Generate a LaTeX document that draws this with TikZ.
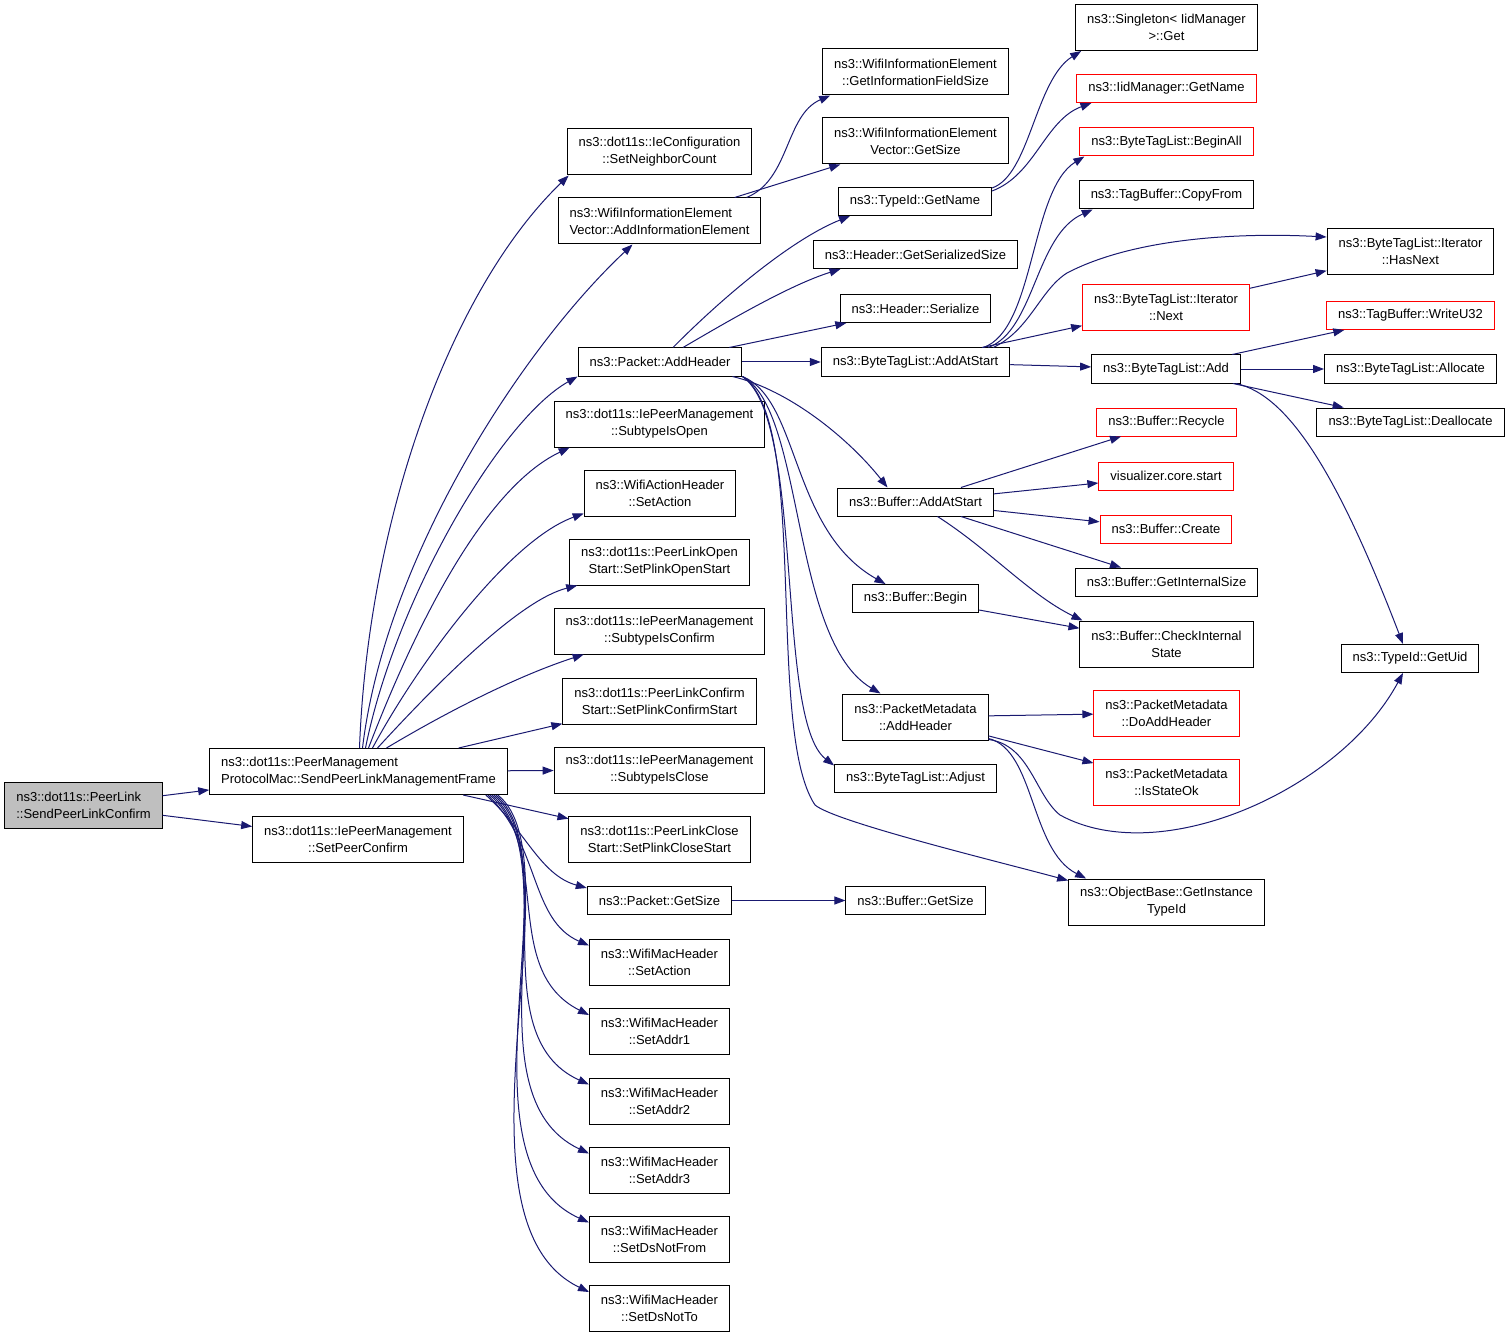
\documentclass[tikz,border=0pt]{standalone}
\usepackage{fontspec}
\setmainfont{Liberation Sans}
\usepackage{tikz}
\usetikzlibrary{arrows.meta}

\definecolor{edgeblue}{HTML}{191970}
\definecolor{rootgray}{HTML}{BFBFBF}

\tikzset{
  fn/.style={draw=black, line width=1pt, font=\fontsize{13}{17}\selectfont, inner xsep=11.5pt, inner ysep=0pt, minimum height=28pt, align=center},
  two/.style={minimum height=46pt},
  missing/.style={draw=red},
  here/.style={fill=rootgray},
  call/.style={draw=edgeblue, line width=1pt, -{Triangle[length=11pt,width=8pt]}},
}

\begin{document}
\begin{tikzpicture}[x=1pt,y=-1pt]
  \useasboundingbox (0,0) rectangle (1512,1337);

  \node[fn, two, here, align=left] at (83.5,805.5) (send-confirm) {ns3::dot11s::PeerLink\\::SendPeerLinkConfirm};

  \node[fn, two, align=left] at (358.5,771.5) (send-frame) {ns3::dot11s::PeerManagement\\ProtocolMac::SendPeerLinkManagementFrame};
  \node[fn, two] at (358,839.5) (set-peer-confirm) {ns3::dot11s::IePeerManagement\\::SetPeerConfirm};

  \node[fn, two] at (659.5,152) (set-neighbor-count) {ns3::dot11s::IeConfiguration\\::SetNeighborCount};
  \node[fn, two, align=left] at (659.5,221) (add-info-element) {ns3::WifiInformationElement\\Vector::AddInformationElement};
  \node[fn] at (660,362) (packet-add-header) {ns3::Packet::AddHeader};
  \node[fn, two] at (659.5,424) (subtype-open) {ns3::dot11s::IePeerManagement\\::SubtypeIsOpen};
  \node[fn, two] at (660,493) (action-set-action) {ns3::WifiActionHeader\\::SetAction};
  \node[fn, two] at (659.5,562) (open-start) {ns3::dot11s::PeerLinkOpen\\Start::SetPlinkOpenStart};
  \node[fn, two] at (659.5,631) (subtype-confirm) {ns3::dot11s::IePeerManagement\\::SubtypeIsConfirm};
  \node[fn, two] at (659.5,701) (confirm-start) {ns3::dot11s::PeerLinkConfirm\\Start::SetPlinkConfirmStart};
  \node[fn, two] at (659.5,770) (subtype-close) {ns3::dot11s::IePeerManagement\\::SubtypeIsClose};
  \node[fn, two] at (659.5,839) (close-start) {ns3::dot11s::PeerLinkClose\\Start::SetPlinkCloseStart};
  \node[fn] at (659.5,900.5) (packet-get-size) {ns3::Packet::GetSize};
  \node[fn, two] at (659.5,962) (mac-set-action) {ns3::WifiMacHeader\\::SetAction};
  \node[fn, two] at (659.5,1031.5) (set-addr1) {ns3::WifiMacHeader\\::SetAddr1};
  \node[fn, two] at (659.5,1101) (set-addr2) {ns3::WifiMacHeader\\::SetAddr2};
  \node[fn, two] at (659.5,1170) (set-addr3) {ns3::WifiMacHeader\\::SetAddr3};
  \node[fn, two] at (659.5,1239) (set-ds-not-from) {ns3::WifiMacHeader\\::SetDsNotFrom};
  \node[fn, two] at (659.5,1308.5) (set-ds-not-to) {ns3::WifiMacHeader\\::SetDsNotTo};

  \node[fn, two] at (915.5,72) (field-size) {ns3::WifiInformationElement\\::GetInformationFieldSize};
  \node[fn, two] at (915.5,141) (vector-get-size) {ns3::WifiInformationElement\\Vector::GetSize};
  \node[fn] at (915,201.5) (typeid-get-name) {ns3::TypeId::GetName};
  \node[fn] at (915.5,254.5) (serialized-size) {ns3::Header::GetSerializedSize};
  \node[fn] at (915.5,308.5) (header-serialize) {ns3::Header::Serialize};
  \node[fn] at (915.5,362) (tags-add-at-start) {ns3::ByteTagList::AddAtStart};
  \node[fn] at (915.5,502) (buffer-add-at-start) {ns3::Buffer::AddAtStart};
  \node[fn] at (915.5,598.5) (buffer-begin) {ns3::Buffer::Begin};
  \node[fn, two] at (915.5,717) (meta-add-header) {ns3::PacketMetadata\\::AddHeader};
  \node[fn] at (915.5,778) (tags-adjust) {ns3::ByteTagList::Adjust};
  \node[fn] at (915.5,900.5) (buffer-get-size) {ns3::Buffer::GetSize};

  \node[fn, two] at (1166.5,27.5) (singleton-get) {ns3::Singleton< IidManager\\>::Get};
  \node[fn, missing] at (1166.5,88.5) (iid-get-name) {ns3::IidManager::GetName};
  \node[fn, missing] at (1166.5,142) (tags-begin-all) {ns3::ByteTagList::BeginAll};
  \node[fn] at (1166.5,195) (tag-copy-from) {ns3::TagBuffer::CopyFrom};
  \node[fn, two, missing] at (1166,307.5) (iter-next) {ns3::ByteTagList::Iterator\\::Next};
  \node[fn] at (1166,369) (tags-add) {ns3::ByteTagList::Add};
  \node[fn, missing] at (1166.5,422) (buffer-recycle) {ns3::Buffer::Recycle};
  \node[fn, missing] at (1166,476) (core-start) {visualizer.core.start};
  \node[fn, missing] at (1166,529) (buffer-create) {ns3::Buffer::Create};
  \node[fn] at (1166.5,582) (internal-size) {ns3::Buffer::GetInternalSize};
  \node[fn, two] at (1166.5,644) (check-internal) {ns3::Buffer::CheckInternal\\State};
  \node[fn, two, missing] at (1166.5,713) (do-add-header) {ns3::PacketMetadata\\::DoAddHeader};
  \node[fn, two, missing] at (1166.5,782) (state-ok) {ns3::PacketMetadata\\::IsStateOk};
  \node[fn, two] at (1166.5,902) (instance-typeid) {ns3::ObjectBase::GetInstance\\TypeId};

  \node[fn, two] at (1410.5,251.5) (iter-has-next) {ns3::ByteTagList::Iterator\\::HasNext};
  \node[fn, missing] at (1410.5,315.5) (write-u32) {ns3::TagBuffer::WriteU32};
  \node[fn] at (1410.5,369) (tags-allocate) {ns3::ByteTagList::Allocate};
  \node[fn] at (1410.5,422) (tags-deallocate) {ns3::ByteTagList::Deallocate};
  \node[fn] at (1410,658.5) (typeid-get-uid) {ns3::TypeId::GetUid};

  \draw[call] (send-confirm) -- (send-frame);
  \draw[call] (send-confirm) -- (set-peer-confirm);

  \draw[call] ([xshift=1pt]send-frame.north) .. controls (368,520) and (450,290) .. ([xshift=2pt]set-neighbor-count.south west);
  \draw[call] ([xshift=4pt]send-frame.north) .. controls (385,560) and (520,350) .. ([xshift=-27pt]add-info-element.south);
  \draw[call] ([xshift=7pt]send-frame.north) .. controls (395,600) and (500,420) .. (packet-add-header.south west);
  \draw[call] ([xshift=10pt]send-frame.north) .. controls (410,640) and (480,490) .. ([xshift=16pt]subtype-open.south west);
  \draw[call] ([xshift=14pt]send-frame.north) .. controls (420,660) and (510,540) .. ([yshift=3pt]action-set-action.south west);
  \draw[call] ([xshift=19pt]send-frame.north) .. controls (440,680) and (520,600) .. ([xshift=8pt]open-start.south west);
  \draw[call] ([xshift=28pt]send-frame.north) .. controls (450,710) and (520,675) .. ([xshift=30pt]subtype-confirm.south west);
  \draw[call] (send-frame) -- (confirm-start);
  \draw[call] (send-frame) -- (subtype-close);
  \draw[call] (send-frame) -- (close-start);
  \draw[call] ([xshift=-22pt]send-frame.south east) .. controls (525,830) and (540,875) .. ([yshift=-2pt]packet-get-size.north west);
  \draw[call] ([xshift=-20pt]send-frame.south east) .. controls (540,845) and (530,920) .. ([yshift=-7pt]mac-set-action.north west);
  \draw[call] ([xshift=-18pt]send-frame.south east) .. controls (553,850) and (500,970) .. ([yshift=-7pt]set-addr1.north west);
  \draw[call] ([xshift=-16pt]send-frame.south east) .. controls (562,855) and (480,1035) .. ([yshift=-7pt]set-addr2.north west);
  \draw[call] ([xshift=-14pt]send-frame.south east) .. controls (570,858) and (465,1095) .. ([yshift=-7pt]set-addr3.north west);
  \draw[call] ([xshift=-12pt]send-frame.south east) .. controls (575,860) and (450,1160) .. ([yshift=-7pt]set-ds-not-from.north west);
  \draw[call] ([xshift=-10pt]send-frame.south east) .. controls (580,860) and (440,1220) .. ([yshift=-7pt]set-ds-not-to.north west);

  \draw[call] ([xshift=87pt]add-info-element.north) .. controls (790,180) and (785,115) .. ([xshift=8pt]field-size.south west);
  \draw[call] (add-info-element) -- (vector-get-size);

  \draw[call] ([xshift=13pt]packet-add-header.north) .. controls (720,300) and (790,240) .. ([xshift=-65pt]typeid-get-name.south);
  \draw[call] ([xshift=23pt]packet-add-header.north) .. controls (730,320) and (790,285) .. ([xshift=-75pt]serialized-size.south);
  \draw[call] (packet-add-header) -- (header-serialize);
  \draw[call] (packet-add-header) -- (tags-add-at-start);
  \draw[call] ([xshift=-10pt]packet-add-header.south east) .. controls (790,390) and (850,440) .. ([xshift=-28pt]buffer-add-at-start.north);
  \draw[call] (packet-add-header.south east) .. controls (800,400) and (790,530) .. ([xshift=-30pt]buffer-begin.north);
  \draw[call] (packet-add-header.south east) .. controls (805,410) and (790,640) .. ([xshift=-35pt]meta-add-header.north);
  \draw[call] (packet-add-header.south east) .. controls (805,420) and (775,720) .. ([yshift=-2pt]tags-adjust.north west);
  \draw[call] (packet-add-header.south east) .. controls (810,420) and (765,730) .. (815,805) .. controls (835,822) and (1000,862) .. ([yshift=-2pt]instance-typeid.north west);

  \draw[call] ([yshift=-1pt]typeid-get-name.north east) .. controls (1030,175) and (1035,80) .. ([xshift=6pt]singleton-get.south west);
  \draw[call] ([yshift=-4pt]typeid-get-name.north east) .. controls (1035,175) and (1045,120) .. ([xshift=15pt]iid-get-name.south west);

  \draw[call] ([xshift=-27pt]tags-add-at-start.north east) .. controls (1035,330) and (1030,190) .. ([xshift=5pt]tags-begin-all.south west);
  \draw[call] ([xshift=-22pt]tags-add-at-start.north east) .. controls (1035,330) and (1035,235) .. ([xshift=14pt]tag-copy-from.south west);
  \draw[call] ([xshift=-17pt]tags-add-at-start.north east) .. controls (1030,330) and (1040,290) .. (1067,273) .. controls (1130,240) and (1230,232) .. ([yshift=-9pt]iter-has-next.north west);
  \draw[call] (tags-add-at-start) -- (iter-next);
  \draw[call] (tags-add-at-start) -- (tags-add);
  \draw[call] (iter-next) -- (iter-has-next);

  \draw[call] (tags-add) -- (write-u32);
  \draw[call] (tags-add) -- (tags-allocate);
  \draw[call] (tags-add) -- (tags-deallocate);
  \draw[call] ([xshift=-5pt]tags-add.south east) .. controls (1290,395) and (1340,480) .. ([xshift=-7pt]typeid-get-uid.north);

  \draw[call] (buffer-add-at-start) -- (buffer-recycle);
  \draw[call] (buffer-add-at-start) -- (core-start);
  \draw[call] (buffer-add-at-start) -- (buffer-create);
  \draw[call] (buffer-add-at-start) -- (internal-size);
  \draw[call] ([xshift=22pt]buffer-add-at-start.south) .. controls (990,550) and (1030,595) .. ([xshift=3pt]check-internal.north west);
  \draw[call] (buffer-begin) -- (check-internal);

  \draw[call] (meta-add-header) -- (do-add-header);
  \draw[call] (meta-add-header) -- (state-ok);
  \draw[call] ([yshift=2pt]meta-add-header.south east) .. controls (1035,750) and (1030,850) .. ([xshift=18pt]instance-typeid.north west);
  \draw[call] ([yshift=1pt]meta-add-header.south east) .. controls (1030,745) and (1035,795) .. (1060,815) .. controls (1160,870) and (1340,790) .. ([xshift=-7pt]typeid-get-uid.south);

  \draw[call] (packet-get-size) -- (buffer-get-size);
\end{tikzpicture}
\end{document}
